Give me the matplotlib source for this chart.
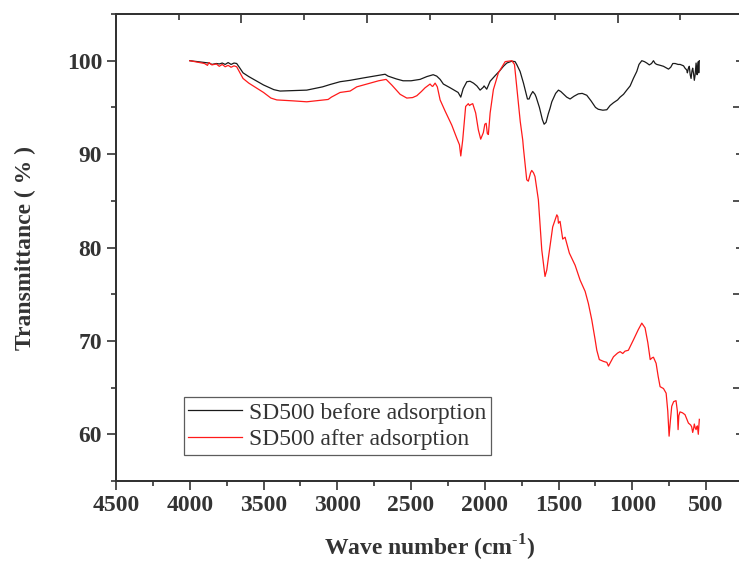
import matplotlib
matplotlib.use("Agg")
import matplotlib.pyplot as plt
from matplotlib.ticker import MultipleLocator, FixedLocator, NullFormatter

plt.rcParams['font.family'] = ['Liberation Serif', 'DejaVu Serif']
plt.rcParams['mathtext.fontset'] = 'custom'
plt.rcParams['mathtext.rm'] = 'Liberation Serif'
plt.rcParams['mathtext.bf'] = 'Liberation Serif:bold'

# ---- data ----
before_x = [4000, 3950, 3900, 3870, 3850, 3820, 3800, 3780, 3760, 3740, 3720, 3700, 3682, 3660, 3639, 3600,
            3500, 3430, 3388, 3300, 3207, 3100, 3049, 2981, 2913, 2825, 2750, 2676, 2656, 2600, 2554, 2500,
            2439, 2393, 2350, 2326, 2303, 2281, 2235, 2181, 2163, 2147, 2122, 2100, 2077, 2054, 2032, 2011,
            2005, 1987, 1964, 1930, 1900, 1874, 1851, 1817, 1795, 1784, 1761, 1738, 1711, 1700, 1690, 1675,
            1660, 1652, 1630, 1610, 1598, 1585, 1570, 1558, 1546, 1520, 1501, 1485, 1472, 1445, 1422, 1395,
            1366, 1340, 1309, 1280, 1250, 1231, 1200, 1173, 1151, 1128, 1100, 1083, 1060, 1038, 1015, 993,
            970, 955, 936, 918, 902, 885, 870, 857, 845, 834, 810, 789, 766, 755, 740, 726, 710, 690, 676,
            653, 643, 631, 627, 620, 614, 608, 602, 596, 591, 585, 580, 575, 568, 563, 561, 556, 553, 550, 546]
before_y = [100.0, 99.9, 99.8, 99.75, 99.6, 99.7, 99.65, 99.75, 99.6, 99.8, 99.6, 99.75, 99.7, 99.2, 98.7, 98.3,
            97.4, 96.9, 96.75, 96.8, 96.85, 97.2, 97.45, 97.75, 97.9, 98.15, 98.35, 98.55, 98.35, 98.05, 97.85, 97.85,
            98.0, 98.3, 98.5, 98.35, 98.0, 97.5, 97.1, 96.6, 96.1, 97.0, 97.75, 97.8, 97.6, 97.3, 96.85, 97.15,
            97.3, 96.95, 97.8, 98.4, 98.9, 99.4, 99.75, 99.95, 99.9, 99.6, 98.85, 97.6, 95.9, 95.9, 96.3, 96.7,
            96.4, 96.1, 95.0, 93.7, 93.2, 93.4, 94.3, 94.9, 95.6, 96.5, 96.85, 96.7, 96.5, 96.1, 95.9, 96.2,
            96.45, 96.5, 96.3, 95.7, 95.0, 94.8, 94.7, 94.75, 95.2, 95.5, 95.8, 96.1, 96.4, 96.85, 97.3, 98.1,
            98.85, 99.6, 100.0, 99.9, 99.75, 99.55, 99.7, 100.0, 99.7, 99.6, 99.5, 99.4, 99.2, 99.1, 99.3, 99.7, 99.7, 99.6, 99.6,
            99.45, 99.2, 99.0, 98.7, 99.2, 99.4, 98.5, 98.1, 98.9, 99.2, 98.6, 97.9, 98.4, 99.75, 99.0, 98.5, 99.5, 99.9, 98.7, 100.0]

after_x = [4000, 3950, 3900, 3880, 3870, 3850, 3820, 3800, 3780, 3760, 3740, 3720, 3700, 3682, 3660, 3639, 3600,
           3500, 3450, 3410, 3300, 3207, 3150, 3117, 3062, 3040, 2981, 2913, 2868, 2778, 2720, 2669, 2631, 2574,
           2529, 2490, 2461, 2430, 2405, 2371, 2360, 2353, 2337, 2322, 2303, 2269, 2224, 2190, 2172, 2163, 2150,
           2130, 2112, 2104, 2096, 2082, 2062, 2044, 2028, 2010, 2000, 1991, 1983, 1976, 1964, 1942, 1908, 1862,
           1817, 1799, 1779, 1760, 1743, 1738, 1716, 1705, 1690, 1682, 1670, 1660, 1637, 1614, 1592, 1580, 1569,
           1540, 1512, 1505, 1501, 1490, 1472, 1456, 1427, 1388, 1354, 1320, 1298, 1275, 1252, 1241, 1224, 1195,
           1173, 1162, 1145, 1128, 1100, 1083, 1065, 1050, 1027, 993, 960, 936, 914, 895, 879, 865, 857, 839, 825,
           812, 789, 771, 760, 751, 742, 733, 720, 704, 695, 690, 685, 677, 660, 643, 620, 605, 598, 591, 585, 580,
           574, 568, 563, 559, 553, 546]
after_y = [100.0, 99.85, 99.7, 99.5, 99.8, 99.55, 99.65, 99.4, 99.6, 99.35, 99.5, 99.3, 99.45, 99.35, 98.7, 98.1, 97.6,
           96.6, 96.0, 95.8, 95.7, 95.6, 95.7, 95.75, 95.85, 96.1, 96.6, 96.75, 97.2, 97.6, 97.85, 98.0, 97.4, 96.4,
           96.0, 96.05, 96.25, 96.7, 97.1, 97.5, 97.3, 97.25, 97.6, 97.2, 95.8, 94.6, 93.1, 91.7, 91.0, 89.8, 91.5,
           95.1, 95.4, 95.2, 95.3, 95.4, 94.4, 92.6, 91.6, 92.3, 93.2, 93.3, 92.2, 92.1, 94.4, 96.9, 98.7, 99.9,
           100.0, 99.6, 96.5, 93.5, 91.5, 90.6, 87.25, 87.1, 88.0, 88.25, 88.0, 87.6, 85.1, 79.75, 76.9, 77.6, 78.9,
           82.2, 83.5, 83.3, 82.6, 82.8, 80.9, 81.1, 79.4, 78.1, 76.5, 75.3, 74.0, 72.25, 70.1, 69.0, 68.0, 67.8,
           67.7, 67.3, 67.8, 68.3, 68.7, 68.85, 68.65, 68.9, 69.0, 70.1, 71.2, 71.9, 71.4, 69.8, 68.0, 68.2, 68.25, 67.6, 66.2,
           65.1, 64.9, 64.4, 62.5, 59.8, 61.5, 63.0, 63.5, 63.6, 62.5, 60.5, 62.0, 62.4, 62.3, 62.1, 61.2, 61.0, 60.8, 60.2, 60.6, 61.1,
           60.7, 60.5, 60.8, 60.9, 60.0, 61.6]

labels = ['SD500 before adsorption', 'SD500 after adsorption']
colors = ['#1a1a1a', '#ff1a1a']
x_ticks = [4500, 4000, 3500, 3000, 2500, 2000, 1500, 1000, 500]
y_ticks = [60, 70, 80, 90, 100]

fig = plt.figure(figsize=(7.39, 5.63), dpi=100)
ax = fig.add_axes([116/739, 82/563, 627/739, 467/563])

ax.plot(before_x, before_y, color=colors[0], lw=0.9, label=labels[0])
ax.plot(after_x, after_y, color=colors[1], lw=0.9, label=labels[1])

ax.set_xlim(4500, 250)
ax.set_ylim(55, 105)
ax.xaxis.set_major_locator(FixedLocator(x_ticks))
ax.xaxis.set_minor_locator(MultipleLocator(250))
ax.yaxis.set_major_locator(FixedLocator(y_ticks))
ax.yaxis.set_minor_locator(MultipleLocator(5))

spine_col = '#333333'
for s in ax.spines.values():
    s.set_color(spine_col)
    s.set_linewidth(1.3)

ax.tick_params(axis='both', which='major', direction='out', length=6.5, width=1.2, colors=spine_col,
               labelsize=17, labelcolor='#333333')
ax.tick_params(axis='both', which='minor', direction='out', length=3.5, width=1.2, colors=spine_col)
ax.tick_params(top=False, right=False, which='both')
for lab in ax.get_xticklabels() + ax.get_yticklabels():
    lab.set_fontweight('bold')

# top axis ticks (inward)
axt = ax.twiny()
axt.set_xlim(0, 10)
axt.xaxis.set_major_locator(FixedLocator([0, 2, 4, 6, 8, 10]))
axt.xaxis.set_minor_locator(FixedLocator([1, 3, 5, 7, 9]))
axt.xaxis.set_major_formatter(NullFormatter())
axt.tick_params(axis='x', which='major', direction='in', length=6.5, width=1.2, colors=spine_col)
axt.tick_params(axis='x', which='minor', direction='in', length=4, width=1.2, colors=spine_col)
axt.yaxis.set_visible(False)

# right axis ticks (inward)
axr = ax.twinx()
axr.set_ylim(55, 105)
axr.yaxis.set_major_locator(FixedLocator([65, 75, 85, 95]))
axr.yaxis.set_minor_locator(FixedLocator([60, 70, 80, 90, 100]))
axr.yaxis.set_major_formatter(NullFormatter())
axr.tick_params(axis='y', which='major', direction='in', length=7.2, width=1.2, colors=spine_col)
axr.tick_params(axis='y', which='minor', direction='in', length=5, width=1.2, colors=spine_col)
for a in (axt, axr):
    for s in a.spines.values():
        s.set_color(spine_col)
        s.set_linewidth(1.3)

ax.set_xlabel(r'Wave number (cm$^{\mathbf{\text{-}1}}$)', fontsize=17, fontweight='bold', color='#333333', labelpad=12)
ax.set_ylabel('Transmittance ( % )', fontsize=17, fontweight='bold', color='#333333', labelpad=22)

leg = ax.legend(loc='lower left', bbox_to_anchor=(0.108, 0.0557), borderaxespad=0, fontsize=17,
                frameon=True, fancybox=False, shadow=False, handlelength=2.25, handletextpad=0.3,
                borderpad=0.2, labelspacing=0.22)
leg.get_frame().set_edgecolor('#333333')
leg.get_frame().set_linewidth(0.9)
for t in leg.get_texts():
    t.set_color('#333333')

fig.savefig('out.png', dpi=100)
